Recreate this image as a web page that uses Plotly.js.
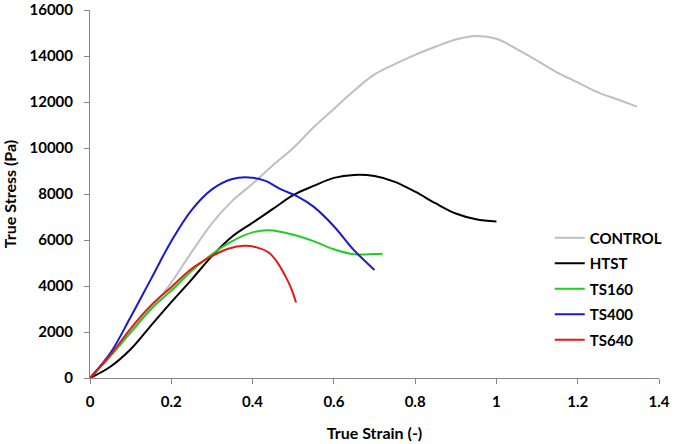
<!DOCTYPE html>
<html>
<head>
<meta charset="utf-8">
<script src="https://cdn.plot.ly/plotly-3.0.1.min.js"></script>
<style>
  html, body { margin: 0; padding: 0; background: #ffffff; }
  #chart { width: 677px; height: 444px; }
</style>
</head>
<body>
<div id="chart"></div>
<script>
// True strain / true stress curves
const controlStrain = [0, 0.05, 0.1, 0.15, 0.2, 0.25, 0.3, 0.35, 0.4, 0.45, 0.5, 0.55, 0.6, 0.65, 0.7, 0.75, 0.8, 0.85, 0.9, 0.95, 1.0, 1.05, 1.1, 1.15, 1.2, 1.25, 1.3, 1.346];
const controlStress = [0, 950, 1950, 3000, 4150, 5470, 6720, 7700, 8450, 9250, 10000, 10900, 11700, 12500, 13200, 13650, 14050, 14400, 14720, 14870, 14750, 14300, 13800, 13280, 12850, 12420, 12100, 11800];

const htstStrain = [0, 0.05, 0.1, 0.15, 0.2, 0.25, 0.3, 0.35, 0.4, 0.45, 0.5, 0.55, 0.6, 0.65, 0.7, 0.75, 0.8, 0.85, 0.9, 0.95, 1.0];
const htstStress = [0, 490, 1250, 2280, 3300, 4280, 5300, 6150, 6750, 7350, 7950, 8350, 8700, 8830, 8780, 8530, 8100, 7600, 7150, 6900, 6800];

const ts160Strain = [0, 0.05, 0.1, 0.15, 0.2, 0.25, 0.3, 0.35, 0.4, 0.44, 0.5, 0.55, 0.6, 0.65, 0.7, 0.72];
const ts160Stress = [0, 950, 2000, 3000, 3800, 4650, 5380, 5950, 6330, 6420, 6230, 5950, 5600, 5380, 5390, 5400];

const ts400Strain = [0, 0.05, 0.1, 0.15, 0.2, 0.25, 0.3, 0.35, 0.39, 0.43, 0.47, 0.51, 0.55, 0.6, 0.65, 0.7];
const ts400Stress = [0, 1080, 2650, 4300, 5950, 7300, 8200, 8650, 8720, 8580, 8200, 7900, 7450, 6600, 5550, 4700];

const ts640Strain = [0, 0.05, 0.1, 0.15, 0.2, 0.25, 0.3, 0.34, 0.38, 0.41, 0.44, 0.46, 0.48, 0.495, 0.507];
const ts640Stress = [0, 1000, 2150, 3150, 3950, 4750, 5300, 5620, 5750, 5680, 5450, 5050, 4450, 3900, 3280];

const seriesNames = ['CONTROL', 'HTST', 'TS160', 'TS400', 'TS640'];
const seriesColors = ['#bfbfbf', '#000000', '#22cc22', '#1a1acc', '#e01b1b'];
const xs = [controlStrain, htstStrain, ts160Strain, ts400Strain, ts640Strain];
const ys = [controlStress, htstStress, ts160Stress, ts400Stress, ts640Stress];

const xTicks = [0, 0.2, 0.4, 0.6, 0.8, 1, 1.2, 1.4];
const xTickText = ['0', '0.2', '0.4', '0.6', '0.8', '1', '1.2', '1.4'];
const yTicks = [0, 2000, 4000, 6000, 8000, 10000, 12000, 14000, 16000];
const yTickText = ['0', '2000', '4000', '6000', '8000', '10000', '12000', '14000', '16000'];

const fontFamily = 'Lato, "Open Sans", sans-serif';

const data = seriesNames.map((name, i) => ({
    x: xs[i],
    y: ys[i],
    name: name,
    legendgroup: name,
    type: 'scatter',
    mode: 'lines',
    cliponaxis: false,
    line: { color: seriesColors[i], width: 2, shape: 'spline', smoothing: 1 }
}));

const axisStyle = {
    showgrid: false,
    zeroline: false,
    showline: true,
    linecolor: '#868686',
    linewidth: 1,
    ticks: 'outside',
    ticklen: 5,
    tickcolor: '#868686',
    ticklabeloverflow: 'allow',
    tickfont: { family: fontFamily, size: 15, color: '#000000', weight: 'bold' }
};

const layout = {
    width: 677,
    height: 444,
    margin: { l: 90, r: 13, t: 10, b: 66 },
    paper_bgcolor: '#ffffff',
    plot_bgcolor: '#ffffff',
    font: { family: fontFamily, color: '#000000' },
    xaxis: Object.assign({}, axisStyle, {
        range: [0, 1.4],
        tickvals: xTicks,
        ticktext: xTickText,
        ticklabelstandoff: 5,
        title: { text: 'True Strain (-)', font: { family: fontFamily, size: 16, weight: 'bold' }, standoff: 18 }
    }),
    yaxis: Object.assign({}, axisStyle, {
        range: [0, 16000],
        tickvals: yTicks,
        ticktext: yTickText,
        ticklabelstandoff: 8,
        title: { text: 'True Stress (Pa)', font: { family: fontFamily, size: 16, weight: 'bold' }, standoff: 10 }
    }),
    legend: {
        x: 0.808,
        y: 0.425,
        xanchor: 'left',
        yanchor: 'top',
        bgcolor: 'rgba(0,0,0,0)',
        font: { family: fontFamily, size: 15, weight: 'bold', color: '#000000' },
        itemwidth: 30,
        tracegroupgap: 3
    },
    showlegend: true
};

Plotly.newPlot('chart', data, layout, { displayModeBar: false, staticPlot: true });
</script>
</body>
</html>
